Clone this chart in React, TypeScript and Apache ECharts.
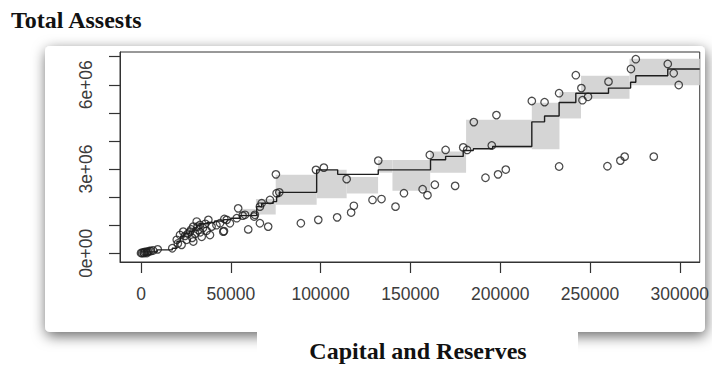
import React, { useEffect, useRef } from "react";
import * as echarts from "echarts";

// Axis ticks / labels
const xTickValues = [0, 50000, 100000, 150000, 200000, 250000, 300000];
const yTickValues = [0, 1000000, 2000000, 3000000, 4000000, 5000000, 6000000, 7000000];
const yLabelValues = [0, 3000000, 6000000];

// Scatter: Capital and Reserves (x) vs Total Assets (y)
const capital = [
  0, 600, 1400, 1700, 2200, 3100, 3300, 3900, 4700, 5600,
  6700, 9300, 17400, 19900, 20500, 21700, 22600, 23500, 24500, 25400,
  26200, 27300, 28000, 28500, 29100, 29100, 30200, 31000, 31500, 31900,
  32800, 33000, 33800, 34500, 35800, 36500, 37500, 38400, 39300, 42000,
  44000, 45800, 46200, 46400, 47700, 49500, 53300, 54100, 56600, 57900,
  59700, 63000, 63400, 66200, 66200, 67200, 70800, 71800, 75100, 75500,
  77000, 89000, 97400, 98700, 101800, 109200, 114500, 117000, 118500, 128900,
  132100, 133900, 141700, 146400, 156800, 159500, 160800, 163600, 169600, 174900,
  179400, 181600, 185300, 191800, 195300, 197900, 198800, 203100, 217600, 224700,
  232800, 232800, 242100, 245200, 245800, 248900, 259700, 260300, 266900, 269300,
  272800, 275500, 285500, 293300, 296600, 299400,
];
const assets = [
  10000, 10000, 30000, 5000, 50000, 50000, 10000, 60000, 80000, 80000,
  100000, 140000, 180000, 480000, 350000, 650000, 300000, 770000, 620000, 480000,
  700000, 770000, 850000, 550000, 950000, 420000, 700000, 1130000, 950000, 830000,
  1010000, 750000, 590000, 900000, 1050000, 800000, 1190000, 650000, 950000, 1000000,
  1070000, 770000, 790000, 1220000, 1190000, 1070000, 1250000, 1600000, 1340000, 1370000,
  850000, 1310000, 1370000, 1660000, 1070000, 1780000, 950000, 1900000, 2810000, 2140000,
  2170000, 1070000, 2970000, 1190000, 3050000, 1280000, 2640000, 1450000, 1690000, 1900000,
  3300000, 1930000, 1660000, 2140000, 2280000, 2070000, 3500000, 2440000, 3680000, 2400000,
  3770000, 3680000, 4670000, 2690000, 3840000, 4920000, 2810000, 2980000, 5420000, 5380000,
  5700000, 3090000, 6340000, 5880000, 5450000, 5570000, 3100000, 6110000, 3300000, 3440000,
  6560000, 6910000, 3440000, 6740000, 6410000, 5990000,
];

// Step function estimate
const stepX = [
  0, 9000, 17400, 20000, 22000, 24000, 27000, 29000, 31000, 33000,
  37000, 41000, 46000, 50000, 55000, 64400, 67200, 73600, 75500, 77000,
  97800, 109500, 132100, 161200, 169600, 179400, 185000, 195800, 217600, 224700,
  232800, 242100, 260300, 272600, 275500, 293300, 311100,
];
const stepY = [
  50000, 120000, 180000, 420000, 600000, 700000, 780000, 900000, 1000000, 1050000,
  1100000, 1150000, 1200000, 1250000, 1340000, 1660000, 1780000, 1840000, 2020000, 2170000,
  2970000, 2810000, 2970000, 3330000, 3450000, 3660000, 3720000, 3800000, 4680000, 4890000,
  5370000, 5700000, 5880000, 6090000, 6320000, 6560000, 6560000,
];

// Grey confidence band segments
const bandStart = [55000, 64000, 75000, 97800, 114500, 132000, 140000, 161000, 181000, 217600, 233000, 245000, 272000];
const bandEnd = [64000, 75000, 97800, 114500, 132000, 140000, 161000, 181000, 217600, 233000, 245000, 272000, 311100];
const bandLow = [1330000, 1380000, 1730000, 1960000, 2130000, 2870000, 2230000, 2870000, 3740000, 3700000, 4800000, 5500000, 5980000];
const bandHigh = [1580000, 1930000, 2800000, 2970000, 2720000, 3320000, 3320000, 3620000, 4750000, 5360000, 5740000, 6320000, 6930000];

const serif = "'Liberation Serif', 'Times New Roman', serif";
const sans = "'Liberation Sans', Arial, sans-serif";

export default function App() {
  const ref = useRef<HTMLDivElement>(null);

  useEffect(() => {
    const chart = echarts.init(ref.current as HTMLDivElement, null, { renderer: "svg" });
    const scatterData = capital.map((x, i) => [x, assets[i]]);
    const stepData = stepX.map((x, i) => [x, stepY[i]]);
    const bandData = bandStart.map((s, i) => [s, bandEnd[i], bandLow[i], bandHigh[i]]);

    chart.setOption({
      animation: false,
      backgroundColor: "#ffffff",
      graphic: [
        {
          type: "rect",
          z: -10,
          shape: { x: 45, y: 46, width: 660, height: 286, r: 5 },
          style: {
            fill: "#ffffff",
            shadowBlur: 14,
            shadowColor: "rgba(0,0,0,0.6)",
            shadowOffsetX: 1,
            shadowOffsetY: 4,
          },
        },
        {
          type: "rect",
          z: 5,
          shape: { x: 257, y: 326, width: 321, height: 45 },
          style: { fill: "#ffffff" },
        },
        {
          type: "text",
          z: 6,
          x: 11,
          y: 20,
          style: {
            text: "Total Assests",
            font: `bold 24px ${serif}`,
            fill: "#111",
            align: "left",
            verticalAlign: "middle",
          },
        },
        {
          type: "text",
          z: 6,
          x: 418,
          y: 351,
          style: {
            text: "Capital and Reserves",
            font: `bold 24px ${serif}`,
            fill: "#111",
            align: "center",
            verticalAlign: "middle",
          },
        },
      ],
      grid: {
        left: 120,
        top: 52,
        width: 580,
        height: 210,
        show: true,
        backgroundColor: "transparent",
        borderColor: "#333",
        borderWidth: 1,
      },
      xAxis: {
        type: "value",
        min: -11700,
        max: 311100,
        axisLine: { show: true, onZero: false, lineStyle: { color: "#333", width: 1 } },
        splitLine: { show: false },
        axisTick: {
          show: true,
          customValues: xTickValues,
          length: 11,
          lineStyle: { color: "#333", width: 1.2 },
        },
        axisLabel: {
          customValues: xTickValues,
          margin: 23,
          fontSize: 17.5,
          fontFamily: sans,
          color: "#3c3c3c",
          formatter: (v: number) => String(v),
        },
      },
      yAxis: {
        type: "value",
        min: -310000,
        max: 7166000,
        axisLine: { show: true, onZero: false, lineStyle: { color: "#333", width: 1 } },
        splitLine: { show: false },
        axisTick: {
          show: true,
          customValues: yTickValues,
          length: 11,
          lineStyle: { color: "#333", width: 1.2 },
        },
        axisLabel: {
          customValues: yLabelValues,
          rotate: 90,
          margin: 25,
          fontSize: 17.5,
          fontFamily: sans,
          color: "#3c3c3c",
          formatter: (v: number) => (v === 0 ? "0e+00" : `${Math.round(v / 1e6)}e+06`),
        },
      },
      series: [
        {
          type: "custom",
          data: bandData,
          encode: { x: [0, 1], y: [2, 3] },
          clip: true,
          renderItem: (params: any, api: any) => {
            const p0 = api.coord([api.value(0), api.value(3)]);
            const p1 = api.coord([api.value(1), api.value(2)]);
            return {
              type: "rect",
              shape: { x: p0[0], y: p0[1], width: p1[0] - p0[0], height: p1[1] - p0[1] },
              style: { fill: "#d5d5d5" },
            };
          },
          silent: true,
        },
        {
          type: "line",
          data: stepData,
          step: "end",
          symbol: "none",
          lineStyle: { color: "#1e1e1e", width: 1.4 },
          silent: true,
        },
        {
          type: "scatter",
          data: scatterData,
          symbol: "circle",
          symbolSize: 7.5,
          itemStyle: { color: "rgba(255,255,255,0)", borderColor: "#1e1e1e", borderWidth: 1.25 },
          silent: true,
        },
      ],
    });

    return () => chart.dispose();
  }, []);

  return (
    <div
      ref={ref}
      style={{ position: "fixed", left: 0, top: 0, width: 712, height: 365, background: "#fff" }}
    />
  );
}
